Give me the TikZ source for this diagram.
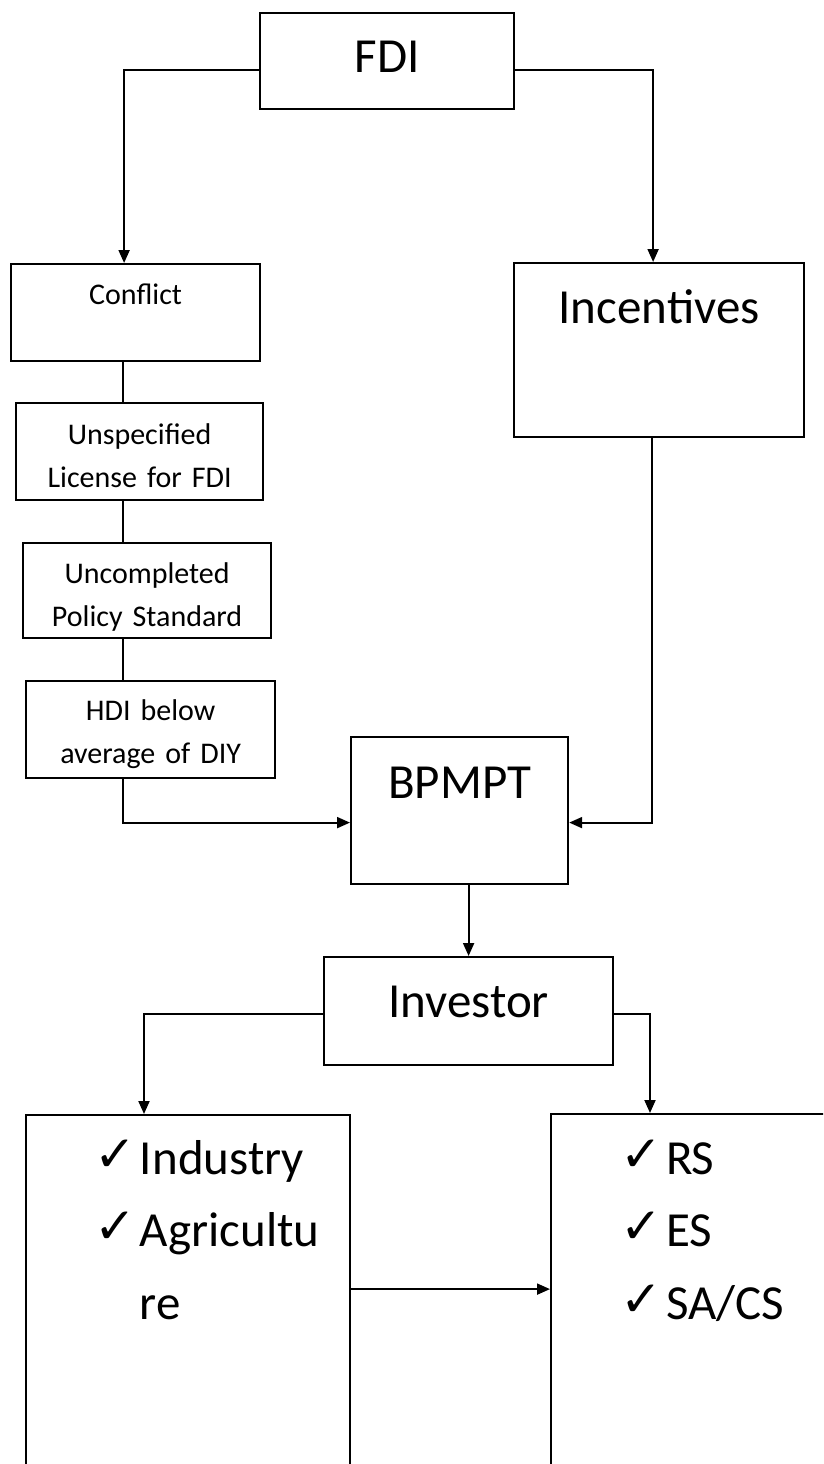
\documentclass[tikz,border=0pt]{standalone}
\usepackage{fontspec}
\setmainfont{Carlito}
\newfontfamily\chkfont{DejaVu Sans}
\usepackage{tikz}
\usetikzlibrary{arrows.meta}
\newcommand{\chk}{\raisebox{3pt}{\chkfont\fontsize{50}{50}\selectfont ✓}\hspace{4pt}}

\begin{document}
\begin{tikzpicture}[x=1pt, y=-1pt,
            box/.style={draw, rectangle, line width=2.2pt, inner sep=0pt, align=center, anchor=north west},
            smalltxt/.style={font=\fontsize{30}{43}\selectfont},
            bigtxt/.style={font=\fontsize{49}{72.5}\selectfont},
            link/.style={line width=2pt},
            arr/.style={line width=2pt, -{Triangle[length=13pt, width=11pt]}}]
            \useasboundingbox (0,0) rectangle (823,1464);
            \clip (0,0) rectangle (823,1464);

            \node[box, bigtxt, text width=254pt, text height=59pt, text depth=37pt] (FDI) at (259,12) {FDI};
            \node[box, smalltxt, text width=249pt, text height=40pt, text depth=57pt] (Conflict) at (10,263) {Conflict};
            \node[box, smalltxt, text width=247pt, text height=41pt, text depth=56pt] (License) at (15,402) {Unspecified\\License for FDI};
            \node[box, smalltxt, text width=248pt, text height=40pt, text depth=55pt] (Policy) at (22,542) {Uncompleted\\Policy Standard};
            \node[box, smalltxt, text width=249pt, text height=39pt, text depth=58pt] (HDI) at (25,680) {HDI below\\average of DIY};
            \node[box, bigtxt, text width=290pt, text height=60pt, text depth=114pt] (Incentives) at (513,262) {Incentives};
            \node[box, bigtxt, text width=217pt, text height=61pt, text depth=86pt] (BPMPT) at (350,736) {BPMPT};
            \node[box, bigtxt, text width=289pt, text height=60pt, text depth=48pt] (Investor) at (323,956) {Investor};
            \node[box, bigtxt, align=left, inner xsep=68pt, text width=188pt, text height=59pt, text depth=327pt] (Sector) at (25,1114) {\mbox{\chk Industry}\\\mbox{\chk Agricultu}\\\mbox{\phantom{\chk}re}};
            \node[box, bigtxt, align=left, inner xsep=69pt, text width=212pt, text height=60pt, text depth=328pt] (Scheme) at (550,1113) {\mbox{\chk RS}\\\mbox{\chk ES}\\\mbox{\chk SA/CS}};

            \draw[arr] ([yshift=-9pt]FDI.west) -| ([xshift=-11.5pt]Conflict.north);
            \draw[arr] ([yshift=-9pt]FDI.east) -| ([xshift=-6pt]Incentives.north);
            \draw[link] ([xshift=-12.5pt]Conflict.south) -- ([xshift=-16.5pt]License.north);
            \draw[link] ([xshift=-16.5pt]License.south) -- ([xshift=-24pt]Policy.north);
            \draw[link] ([xshift=-24pt]Policy.south) -- ([xshift=-27.5pt]HDI.north);
            \draw[arr] ([xshift=-27.5pt]HDI.south) |- ([yshift=-12pt]BPMPT.west);
            \draw[arr] ([xshift=-7pt]Incentives.south) |- ([yshift=-12pt]BPMPT.east);
            \draw[arr] ([xshift=9pt]BPMPT.south) -- (Investor.north);
            \draw[arr] ([yshift=-3pt]Investor.west) -| ([xshift=119pt]Sector.north west);
            \draw[arr] ([yshift=-3pt]Investor.east) -| ([xshift=100pt]Scheme.north west);
            \draw[arr] ([yshift=19pt]Sector.east) -- ([yshift=19pt]Sector.east -| Scheme.west);
        \end{tikzpicture}
\end{document}
